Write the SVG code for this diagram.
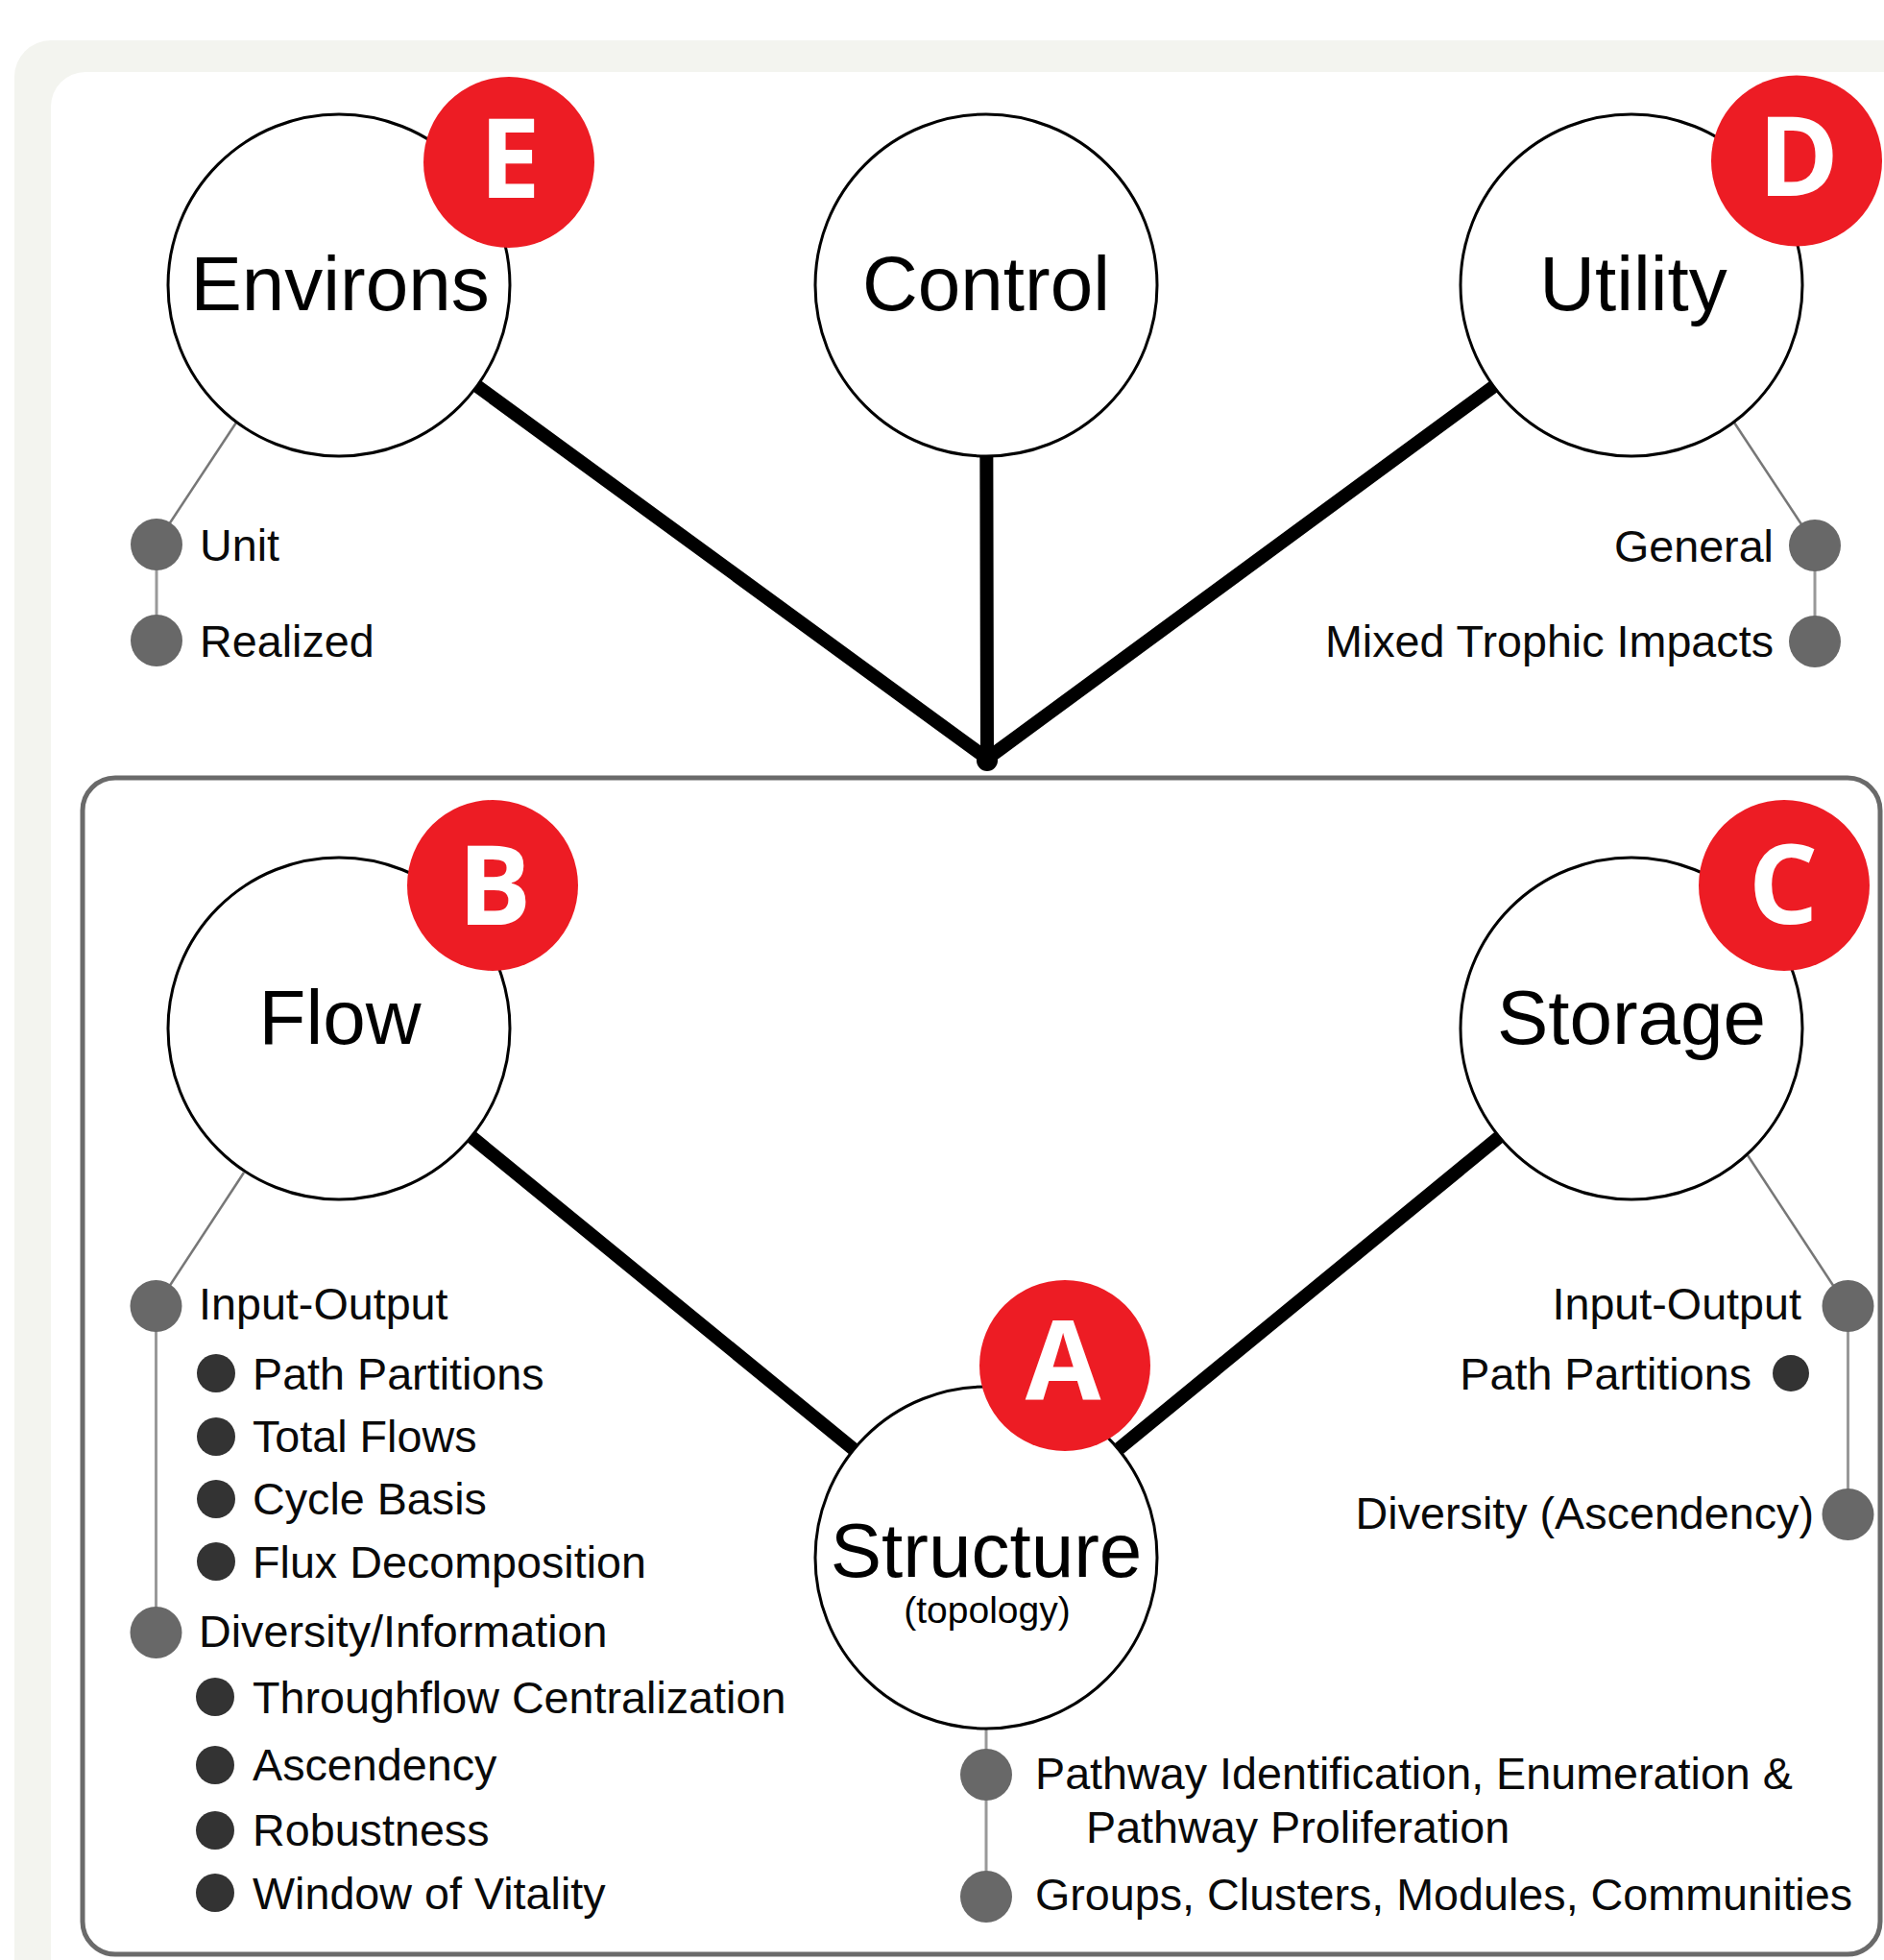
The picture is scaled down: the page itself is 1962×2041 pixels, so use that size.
<svg xmlns="http://www.w3.org/2000/svg" width="1962" height="2041" viewBox="0 0 1962 2041">
<style>
  .node { fill: #ffffff; stroke: #000000; stroke-width: 3; }
  .badge { fill: #ed1c24; }
  .badgeText { font-family: "Open Sans", "Liberation Sans", sans-serif; font-weight: 700; font-size: 114px; fill: #ffffff; text-anchor: middle; }
  .big { font-family: "Liberation Sans", Arial, sans-serif; font-size: 80px; fill: #000000; text-anchor: middle; }
  .small { font-family: "Liberation Sans", Arial, sans-serif; font-size: 39px; fill: #000000; text-anchor: middle; }
  .item { font-family: "Liberation Sans", Arial, sans-serif; font-size: 46.7px; fill: #0a0a0a; }
  .end { text-anchor: end; }
  .thick { stroke: #000000; stroke-width: 14; stroke-linecap: round; fill: none; }
  .thin { stroke: #777777; stroke-width: 2.5; fill: none; }
  .vert { stroke: #999999; stroke-width: 3; fill: none; }
  .dot { fill: #686868; }
  .sub { fill: #333333; }
</style>

<!-- background -->
<rect x="0" y="0" width="1962" height="2041" fill="#ffffff"/>
<rect x="15" y="42" width="2100" height="2100" rx="38" fill="#f3f4ef"/>
<rect x="53" y="75" width="2100" height="2100" rx="36" fill="#ffffff"/>
<rect x="86" y="810" width="1872" height="1225" rx="34" fill="none" stroke="#6a6a6a" stroke-width="5"/>

<!-- connectors -->
<g id="connectors">
  <line class="thick" x1="353" y1="297" x2="1028" y2="790"/>
  <line class="thick" x1="1027" y1="297" x2="1028" y2="790"/>
  <line class="thick" x1="1699" y1="297" x2="1028" y2="790"/>
  <circle cx="1028" cy="792" r="11" fill="#000000"/>
  <line class="thick" x1="353" y1="1071" x2="1027" y2="1622"/>
  <line class="thick" x1="1699" y1="1071" x2="1027" y2="1622"/>

  <line class="thin" x1="246" y1="440" x2="176" y2="546"/>
  <line class="vert" x1="163" y1="567" x2="163" y2="667"/>
  <line class="thin" x1="1806" y1="440" x2="1878" y2="549"/>
  <line class="vert" x1="1890" y1="568" x2="1890" y2="668"/>

  <line class="thin" x1="254" y1="1221" x2="176" y2="1340"/>
  <line class="vert" x1="162.5" y1="1360" x2="162.5" y2="1700"/>
  <line class="thin" x1="1820" y1="1203" x2="1910" y2="1340"/>
  <line class="vert" x1="1924.5" y1="1360" x2="1924.5" y2="1577"/>

  <line class="vert" x1="1027" y1="1800" x2="1027" y2="1975"/>
</g>

<!-- Environs -->
<g id="node-environs">
  <circle class="node" cx="353" cy="297" r="178"/>
  <text class="big" x="354" y="323">Environs</text>
  <circle class="badge" cx="530" cy="169" r="89"/>
  <text class="badgeText" x="531" y="206">E</text>
  <circle class="dot" cx="163" cy="567" r="27"/>
  <text class="item" x="208" y="584">Unit</text>
  <circle class="dot" cx="163" cy="667" r="27"/>
  <text class="item" x="208" y="684">Realized</text>
</g>

<!-- Control -->
<g id="node-control">
  <circle class="node" cx="1027" cy="297" r="178"/>
  <text class="big" x="1027" y="323">Control</text>
</g>

<!-- Utility -->
<g id="node-utility">
  <circle class="node" cx="1699" cy="297" r="178"/>
  <text class="big" x="1701" y="323">Utility</text>
  <circle class="badge" cx="1871" cy="167.5" r="89"/>
  <text class="badgeText" x="1873" y="204">D</text>
  <circle class="dot" cx="1890" cy="568" r="27"/>
  <text class="item end" x="1847" y="585">General</text>
  <circle class="dot" cx="1890" cy="668" r="27"/>
  <text class="item end" x="1847" y="684">Mixed Trophic Impacts</text>
</g>

<!-- Flow -->
<g id="node-flow">
  <circle class="node" cx="353" cy="1071" r="178"/>
  <text class="big" x="354" y="1087">Flow</text>
  <circle class="badge" cx="513" cy="922" r="89"/>
  <text class="badgeText" x="515" y="963">B</text>
  <circle class="dot" cx="162.5" cy="1360" r="27"/>
  <text class="item" x="207" y="1374">Input-Output</text>
  <circle class="sub" cx="225" cy="1430" r="20"/>
  <text class="item" x="263" y="1447">Path Partitions</text>
  <circle class="sub" cx="225" cy="1496" r="20"/>
  <text class="item" x="263" y="1512">Total Flows</text>
  <circle class="sub" cx="225" cy="1561" r="20"/>
  <text class="item" x="263" y="1577">Cycle Basis</text>
  <circle class="sub" cx="225" cy="1626" r="20"/>
  <text class="item" x="263" y="1643">Flux Decomposition</text>
  <circle class="dot" cx="162.5" cy="1700" r="27"/>
  <text class="item" x="207" y="1715">Diversity/Information</text>
  <circle class="sub" cx="224" cy="1767" r="20"/>
  <text class="item" x="263" y="1784">Throughflow Centralization</text>
  <circle class="sub" cx="224" cy="1838" r="20"/>
  <text class="item" x="263" y="1854">Ascendency</text>
  <circle class="sub" cx="224" cy="1906" r="20"/>
  <text class="item" x="263" y="1922">Robustness</text>
  <circle class="sub" cx="224" cy="1971" r="20"/>
  <text class="item" x="263" y="1988">Window of Vitality</text>
</g>

<!-- Storage -->
<g id="node-storage">
  <circle class="node" cx="1699" cy="1071" r="178"/>
  <text class="big" x="1699" y="1087">Storage</text>
  <circle class="badge" cx="1858" cy="922" r="89"/>
  <text class="badgeText" x="1857" y="962">C</text>
  <circle class="dot" cx="1924.5" cy="1360" r="27"/>
  <text class="item end" x="1876" y="1374">Input-Output</text>
  <circle class="sub" cx="1865" cy="1430" r="19"/>
  <text class="item end" x="1824" y="1447">Path Partitions</text>
  <circle class="dot" cx="1924.5" cy="1577" r="27"/>
  <text class="item end" x="1889" y="1592">Diversity (Ascendency)</text>
</g>

<!-- Structure -->
<g id="node-structure">
  <circle class="node" cx="1027" cy="1622" r="178"/>
  <text class="big" x="1027" y="1642">Structure</text>
  <text class="small" x="1028" y="1690">(topology)</text>
  <circle class="badge" cx="1109" cy="1422" r="89"/>
  <text class="badgeText" x="1107" y="1458">A</text>
  <circle class="dot" cx="1027" cy="1848" r="27"/>
  <text class="item" x="1078" y="1863">Pathway Identification, Enumeration &amp;</text>
  <text class="item" x="1131" y="1919">Pathway Proliferation</text>
  <circle class="dot" cx="1027" cy="1975" r="27"/>
  <text class="item" x="1078" y="1989">Groups, Clusters, Modules, Communities</text>
</g>
</svg>
